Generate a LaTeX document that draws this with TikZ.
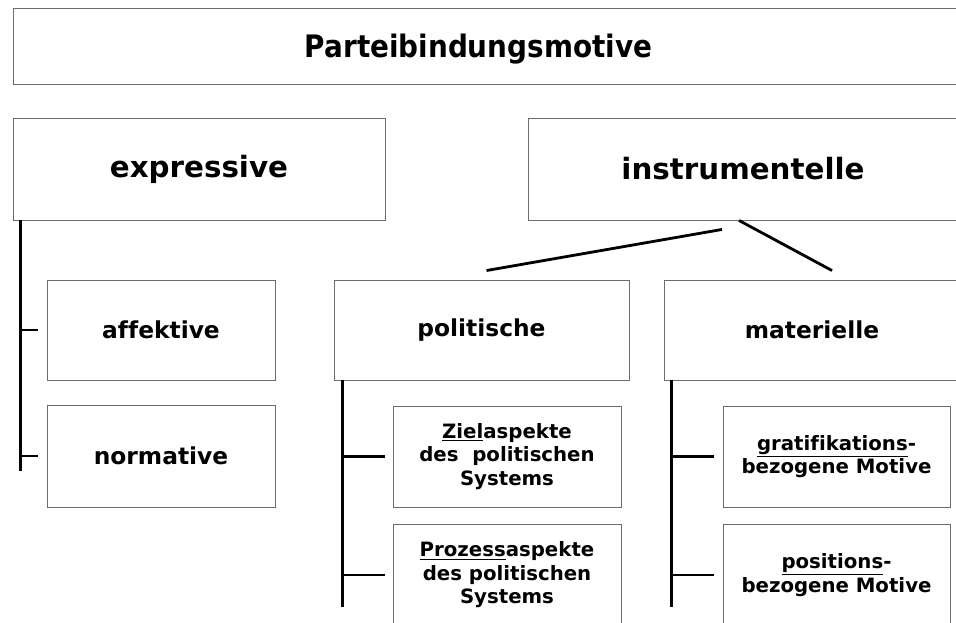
\documentclass[tikz,border=0pt]{standalone}
\usepackage{fontspec}
\setmainfont{DejaVu Sans}[Ligatures=NoCommon]
\newfontfamily\condfont{DejaVu Sans Condensed}[Ligatures=NoCommon]
\usetikzlibrary{positioning}
\tikzset{
  box/.style={draw=gray!85!black,line width=0.7pt,fill=white,align=center,inner sep=0pt},
  wh/.style 2 args={minimum width=#1*0.75pt,minimum height=#2*0.75pt},
  ttl/.style={box,text depth=0pt,font=\condfont\fontsize{23.2}{28}\selectfont\bfseries},
  big/.style={box,font=\fontsize{22}{26}\selectfont\bfseries},
  mid/.style={box,font=\fontsize{17.5}{21}\selectfont\bfseries},
  sml/.style={box,font=\fontsize{14.8}{17.6}\selectfont\bfseries},
  br/.style={line width=2.1pt}
}

\begin{document}
\begin{tikzpicture}[x=0.75pt,y=-0.75pt]
\useasboundingbox (0,0) rectangle (956,623);
\node[ttl,wh={947}{76}] (motive) at (486.5,46) {\hspace*{-12pt}Parteibindungsmotive};
\node[big,wh={372}{102}] (expr) at (199,169) {expressive};
\node[big,wh={430}{102}] (instr) at (743,169) {instrumentelle};
\node[mid,wh={228}{100}] (aff) at (161,330) {affektive};
\node[mid,wh={228}{102}] (norm) at (161,456) {normative};
\node[mid,wh={295}{100}] (pol) at (481.5,330) {politische};
\node[mid,wh={296}{100}] (mat) at (812,330) {materielle};
\node[sml,wh={228}{101}] (ziel) at (507,456.5) {\underline{Ziel}aspekte\\des~ politischen\\Systems};
\node[sml,wh={228}{102}] (proz) at (507,575) {\underline{Prozess}aspekte\\des politischen\\Systems};
\node[sml,wh={227}{101}] (grat) at (836.5,456.5) {\underline{gratifikations}-\\bezogene Motive};
\node[sml,wh={227}{102}] (posi) at (836.5,575) {\underline{positions}-\\bezogene Motive};
% expressive
\coordinate (etop) at ([xshift=6pt]expr.south west);
\draw[br] (etop) -- ([yshift=-11.25pt]etop |- norm);
\draw[br] (etop |- aff) -- ([xshift=-6.75pt]aff.west);
\draw[br] (etop |- norm) -- ([xshift=-6.75pt]norm.west);
% instrumentelle
\draw[br] ([shift={(-21,9)}]instr.south) -- ([shift={(5,-9)}]pol.north);
\draw[br] ([xshift=-3pt]instr.south) -- ([shift={(20,-9)}]mat.north);
% politische
\coordinate (ptop) at ([xshift=6.75pt]pol.south west);
\draw[br] (ptop) -- ([yshift=-24pt]ptop |- proz);
\draw[br] (ptop |- ziel) -- ([xshift=-6pt]ziel.west);
\draw[br] (ptop |- proz) -- ([xshift=-6pt]proz.west);
% materielle
\coordinate (mtop) at ([xshift=6pt]mat.south west);
\draw[br] (mtop) -- ([yshift=-24pt]mtop |- posi);
\draw[br] (mtop |- grat) -- ([xshift=-6.75pt]grat.west);
\draw[br] (mtop |- posi) -- ([xshift=-6.75pt]posi.west);
\end{tikzpicture}
\end{document}
